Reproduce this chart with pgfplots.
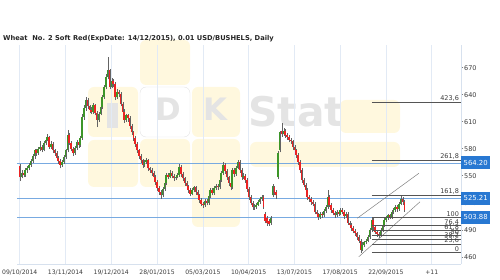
\documentclass[border=0pt]{standalone}
\usepackage{pgfplots}
\pgfplotsset{compat=1.18}
\usepackage{pgfplotstable}
\usepackage{fontspec}
\setmainfont{DejaVu Sans}
\definecolor{upc}{RGB}{60,150,40}
\definecolor{dnc}{RGB}{235,35,35}
\definecolor{wickc}{RGB}{100,100,100}
\definecolor{bluel}{RGB}{120,170,225}
\definecolor{boxc}{RGB}{40,120,210}
\definecolor{fibc}{RGB}{85,85,85}
\definecolor{gridc}{RGB}{226,234,245}
\definecolor{axc}{RGB}{215,225,238}
\definecolor{wmy}{RGB}{255,248,222}
\definecolor{wmg}{RGB}{228,228,228}
\definecolor{labc}{RGB}{60,60,60}

\pgfplotstableread{
i o h l c
0 561 563 544 549
1 549 556 547 553
2 553 555 548 551
3 551 558 549 556
4 556 561 553 559
5 559 564 556 562
6 562 568 560 566
7 566 574 564 572
8 572 580 569 578
9 578 580 572 575
10 575 582 573 580
11 580 588 577 582
12 582 584 576 579
13 579 588 577 586
14 586 592 584 590
15 590 596 588 593
16 593 594 580 582
17 582 588 580 585
18 585 587 575 578
19 578 580 572 575
20 575 577 568 570
21 570 572 563 566
22 566 568 558 562
23 562 567 560 565
24 565 573 563 571
25 571 580 569 578
26 578 601 576 595
27 595 597 584 586
28 586 588 577 580
29 580 582 572 575
30 575 583 573 581
31 581 590 579 587
32 587 589 581 584
33 584 594 582 592
34 592 618 590 615
35 615 628 612 625
36 625 637 622 634
37 634 636 624 627
38 627 629 620 623
39 623 626 618 621
40 621 631 619 628
41 628 630 617 620
42 620 622 604 612
43 612 621 610 619
44 619 628 617 626
45 626 640 624 637
46 637 651 635 648
47 648 663 646 660
48 660 682 657 667
49 667 669 646 649
50 649 658 647 655
51 655 657 649 652
52 652 654 634 637
53 637 646 635 643
54 643 645 637 641
55 641 643 627 630
56 630 632 618 621
57 621 624 609 612
58 612 619 610 617
59 617 619 610 614
60 614 616 602 605
61 605 607 595 598
62 598 600 589 592
63 592 594 582 585
64 585 587 575 578
65 578 580 569 572
66 572 574 564 567
67 567 569 559 562
68 562 567 560 565
69 565 570 563 567
70 567 569 555 558
71 558 560 553 556
72 556 558 550 553
73 553 555 546 549
74 549 551 540 543
75 543 545 533 536
76 536 538 529 532
77 532 534 524 528
78 528 537 526 535
79 535 544 533 542
80 542 553 540 551
81 551 553 546 549
82 549 556 547 553
83 553 555 547 550
84 550 552 544 547
85 547 551 545 549
86 549 553 547 551
87 551 563 549 560
88 560 562 549 552
89 552 554 544 547
90 547 549 539 542
91 542 544 535 538
92 538 540 531 534
93 534 536 527 530
94 530 536 528 534
95 534 539 532 537
96 537 539 529 532
97 532 534 525 528
98 528 530 520 523
99 523 525 516 519
100 519 521 514 517
101 517 524 515 522
102 522 524 517 520
103 520 529 518 527
104 527 536 525 534
105 534 536 528 531
106 531 538 529 536
107 536 541 534 539
108 539 541 534 537
109 537 547 535 545
110 545 555 543 553
111 553 565 551 562
112 562 564 552 555
113 555 557 545 548
114 548 550 539 542
115 542 544 534 537
116 537 558 535 556
117 556 558 549 552
118 552 561 550 559
119 559 567 557 565
120 565 567 553 556
121 556 558 545 548
122 548 553 546 550
123 550 552 542 545
124 545 547 532 535
125 535 537 523 526
126 526 528 517 520
127 520 522 512 515
128 515 519 512 515
129 515 520 513 518
130 518 523 516 521
131 521 526 519 524
132 524 528 522 526
133 526 528 513 515
134 508 510 497 500
135 503 505 494 497
136 500 502 494 496
137 497 505 495 503
138 528 541 526 539
139 537 539 529 531
140 532 534 524 528
141 548 577 546 575
142 578 600 576 598
143 600 608 593 596
144 596 603 594 600
145 600 602 592 595
146 595 597 590 593
147 593 595 587 590
148 590 592 585 588
149 588 590 579 582
150 582 584 575 578
151 578 580 570 573
152 573 575 562 565
153 565 567 553 556
154 556 558 542 545
155 545 547 537 540
156 540 542 531 534
157 534 536 523 526
158 526 528 521 524
159 524 526 518 521
160 521 523 516 519
161 519 521 507 510
162 510 512 504 507
163 507 509 501 504
164 504 510 502 508
165 508 510 503 506
166 506 513 504 511
167 511 517 509 515
168 515 534 513 526
169 526 528 515 518
170 518 520 509 512
171 512 514 506 509
172 509 511 503 506
173 506 512 504 510
174 510 512 505 508
175 508 514 506 512
176 512 514 507 510
177 510 512 502 505
178 505 510 503 508
179 508 510 495 498
180 498 500 492 495
181 495 497 489 492
182 492 494 486 489
183 489 491 483 486
184 486 488 479 482
185 482 484 475 478
186 478 480 464 468
187 468 476 466 473
188 473 478 471 476
189 476 480 474 478
190 478 484 476 482
191 482 492 480 490
192 490 503.9 488 501
193 501 503 490 493
194 493 495 485 487
195 487 489 482 485
196 485 487 481 484
197 484 492 482 490
198 490 497 488 495
199 495 503 493 501
200 501 505 499 503
201 503 508 501 506
202 506 508 502 504
203 504 512 502 510
204 510 514 508 512
205 512 517 510 515
206 515 517 510 513
207 513 521 511 519
208 519 528 517 524
209 524 526 518 521
210 521 523 510 512
}\candles

\begin{document}
\begin{tikzpicture}
\path[use as bounding box] (0,0) rectangle (500bp,280bp);
\begin{scope}[x=1bp,y=-1bp,yshift=280bp]
  % watermark
  \fill[wmy, rounded corners=6bp] (88,87) rectangle (138,137);
  \fill[wmg] (107,103) rectangle (118,128);
  \fill[wmy, rounded corners=6bp] (140,40) rectangle (190,85);
  \fill[white, draw=wmg, rounded corners=6bp] (140,87) rectangle (190,137);
  \node[text=wmg, font=\fontsize{31}{31}\selectfont\bfseries, inner sep=0pt] at (168,109) {D};
  \fill[wmy, rounded corners=6bp] (192,87) rectangle (240,137);
  \node[text=wmg, font=\fontsize{31}{31}\selectfont\bfseries, inner sep=0pt] at (215,109) {K};
  \node[text=wmg, font=\fontsize{41}{41}\selectfont\bfseries, inner sep=0pt, anchor=west] at (248,112) {Stat};
  \fill[wmy, rounded corners=6bp] (340,100) rectangle (400,133);
  \fill[wmy, rounded corners=6bp] (250,142) rectangle (400,167);
  \fill[wmy, rounded corners=6bp] (88,140) rectangle (138,187);
  \fill[wmy, rounded corners=6bp] (140,139) rectangle (190,187);
  \fill[wmy, rounded corners=6bp] (192,139) rectangle (240,227);
  \node[anchor=west, font=\fontsize{6.7bp}{8bp}\selectfont\bfseries, inner sep=0pt, text=black!85] at (3,38.5) {Wheat\ \ No. 2 Soft Red(ExpDate: 14/12/2015), 0.01 USD/BUSHELS, Daily};
\end{scope}
\begin{axis}[
  at={(17bp,16bp)}, anchor=south west,
  scale only axis, width=444bp, height=219bp,
  xmin=-1.5, xmax=241, ymin=451.9, ymax=695.2,
  clip=false,
  axis x line*=bottom, axis y line*=right,
  axis line style={draw=axc, line width=0.6pt},
  xtick={0,25,...,225},
  xticklabels={09/10/2014,13/11/2014,19/12/2014,28/01/2015,05/03/2015,10/04/2015,13/07/2015,17/08/2015,22/09/2015,+11},
  xtick style={draw=none},
  xmajorgrids, grid style={gridc, line width=0.6pt},
  ytick={460,490,520,550,580,610,640,670},
  yticklabels={460,490,520,550,580,610,640,670},
  tick align=outside, major tick length=2bp,
  ytick style={draw=gray, line width=0.4pt},
  xticklabel style={font=\fontsize{6.1bp}{7bp}\selectfont, text=labc, inner sep=0pt, anchor=north, yshift=-3.5bp},
  yticklabel style={font=\fontsize{6.5bp}{7bp}\selectfont, text=labc, inner sep=0pt, anchor=west, xshift=1bp},
  candle/.style={only marks, mark=text, text mark={}, error bars/.cd, y dir=plus, y explicit, error mark=none},
]
% horizontal blue levels
\addplot[bluel, line width=0.8pt] coordinates {(-1.5,564.2) (241,564.2)};
\addplot[bluel, line width=0.8pt] coordinates {(-1.5,525.21) (241,525.21)};
\addplot[bluel, line width=0.8pt] coordinates {(-1.5,503.88) (241,503.88)};
% candles: wicks (under the bodies)
\addplot[candle, error bar style={wickc, line width=0.65pt}]
  table[x expr=\thisrow{i}+0.3, y=l, y error expr=\thisrow{h}-\thisrow{l}] {\candles};
% up bodies
\addplot[candle, error bar style={upc, line width=1.5pt}]
  table[x=i, y=o, y error expr={max(\thisrow{c}-\thisrow{o},0)}] {\candles};
% down bodies
\addplot[candle, error bar style={dnc, line width=1.5pt}]
  table[x=i, y=c, y error expr={max(\thisrow{o}-\thisrow{c},0)}] {\candles};
% channel
\addplot[gray, line width=0.5pt] coordinates {(184.3,502.7) (218,552.7)};
\addplot[gray, line width=0.5pt] coordinates {(185.2,460) (218.6,521)};
% fibonacci levels
\foreach \v/\t in {631.3/{423,6},567.6/{261,8},528.2/{161,8},503.88/{100},494.6/{76,4},488.8/{61,8},484.2/{50},479.5/{38,2},473.8/{23,6},464.5/{0}}{
  \edef\tmp{\noexpand\addplot[fibc, line width=0.6pt] coordinates {(192.3,\v) (241,\v)};}\tmp
  \edef\tmp{\noexpand\node[anchor=south east, inner sep=0.6bp, text=labc, font=\noexpand\fontsize{6.5bp}{7bp}\noexpand\selectfont] at (axis cs:240.3,\v) {\t};}\tmp
}
% value boxes
\foreach \v in {564.20,525.21,503.88}{
  \edef\tmp{\noexpand\node[anchor=west, fill=boxc, text=white, inner sep=0pt, minimum width=29bp, minimum height=13bp, font=\noexpand\fontsize{6.9bp}{8bp}\noexpand\selectfont] at (axis cs:241,\v) {\v};}\tmp
}
\end{axis}
\end{tikzpicture}
\end{document}
